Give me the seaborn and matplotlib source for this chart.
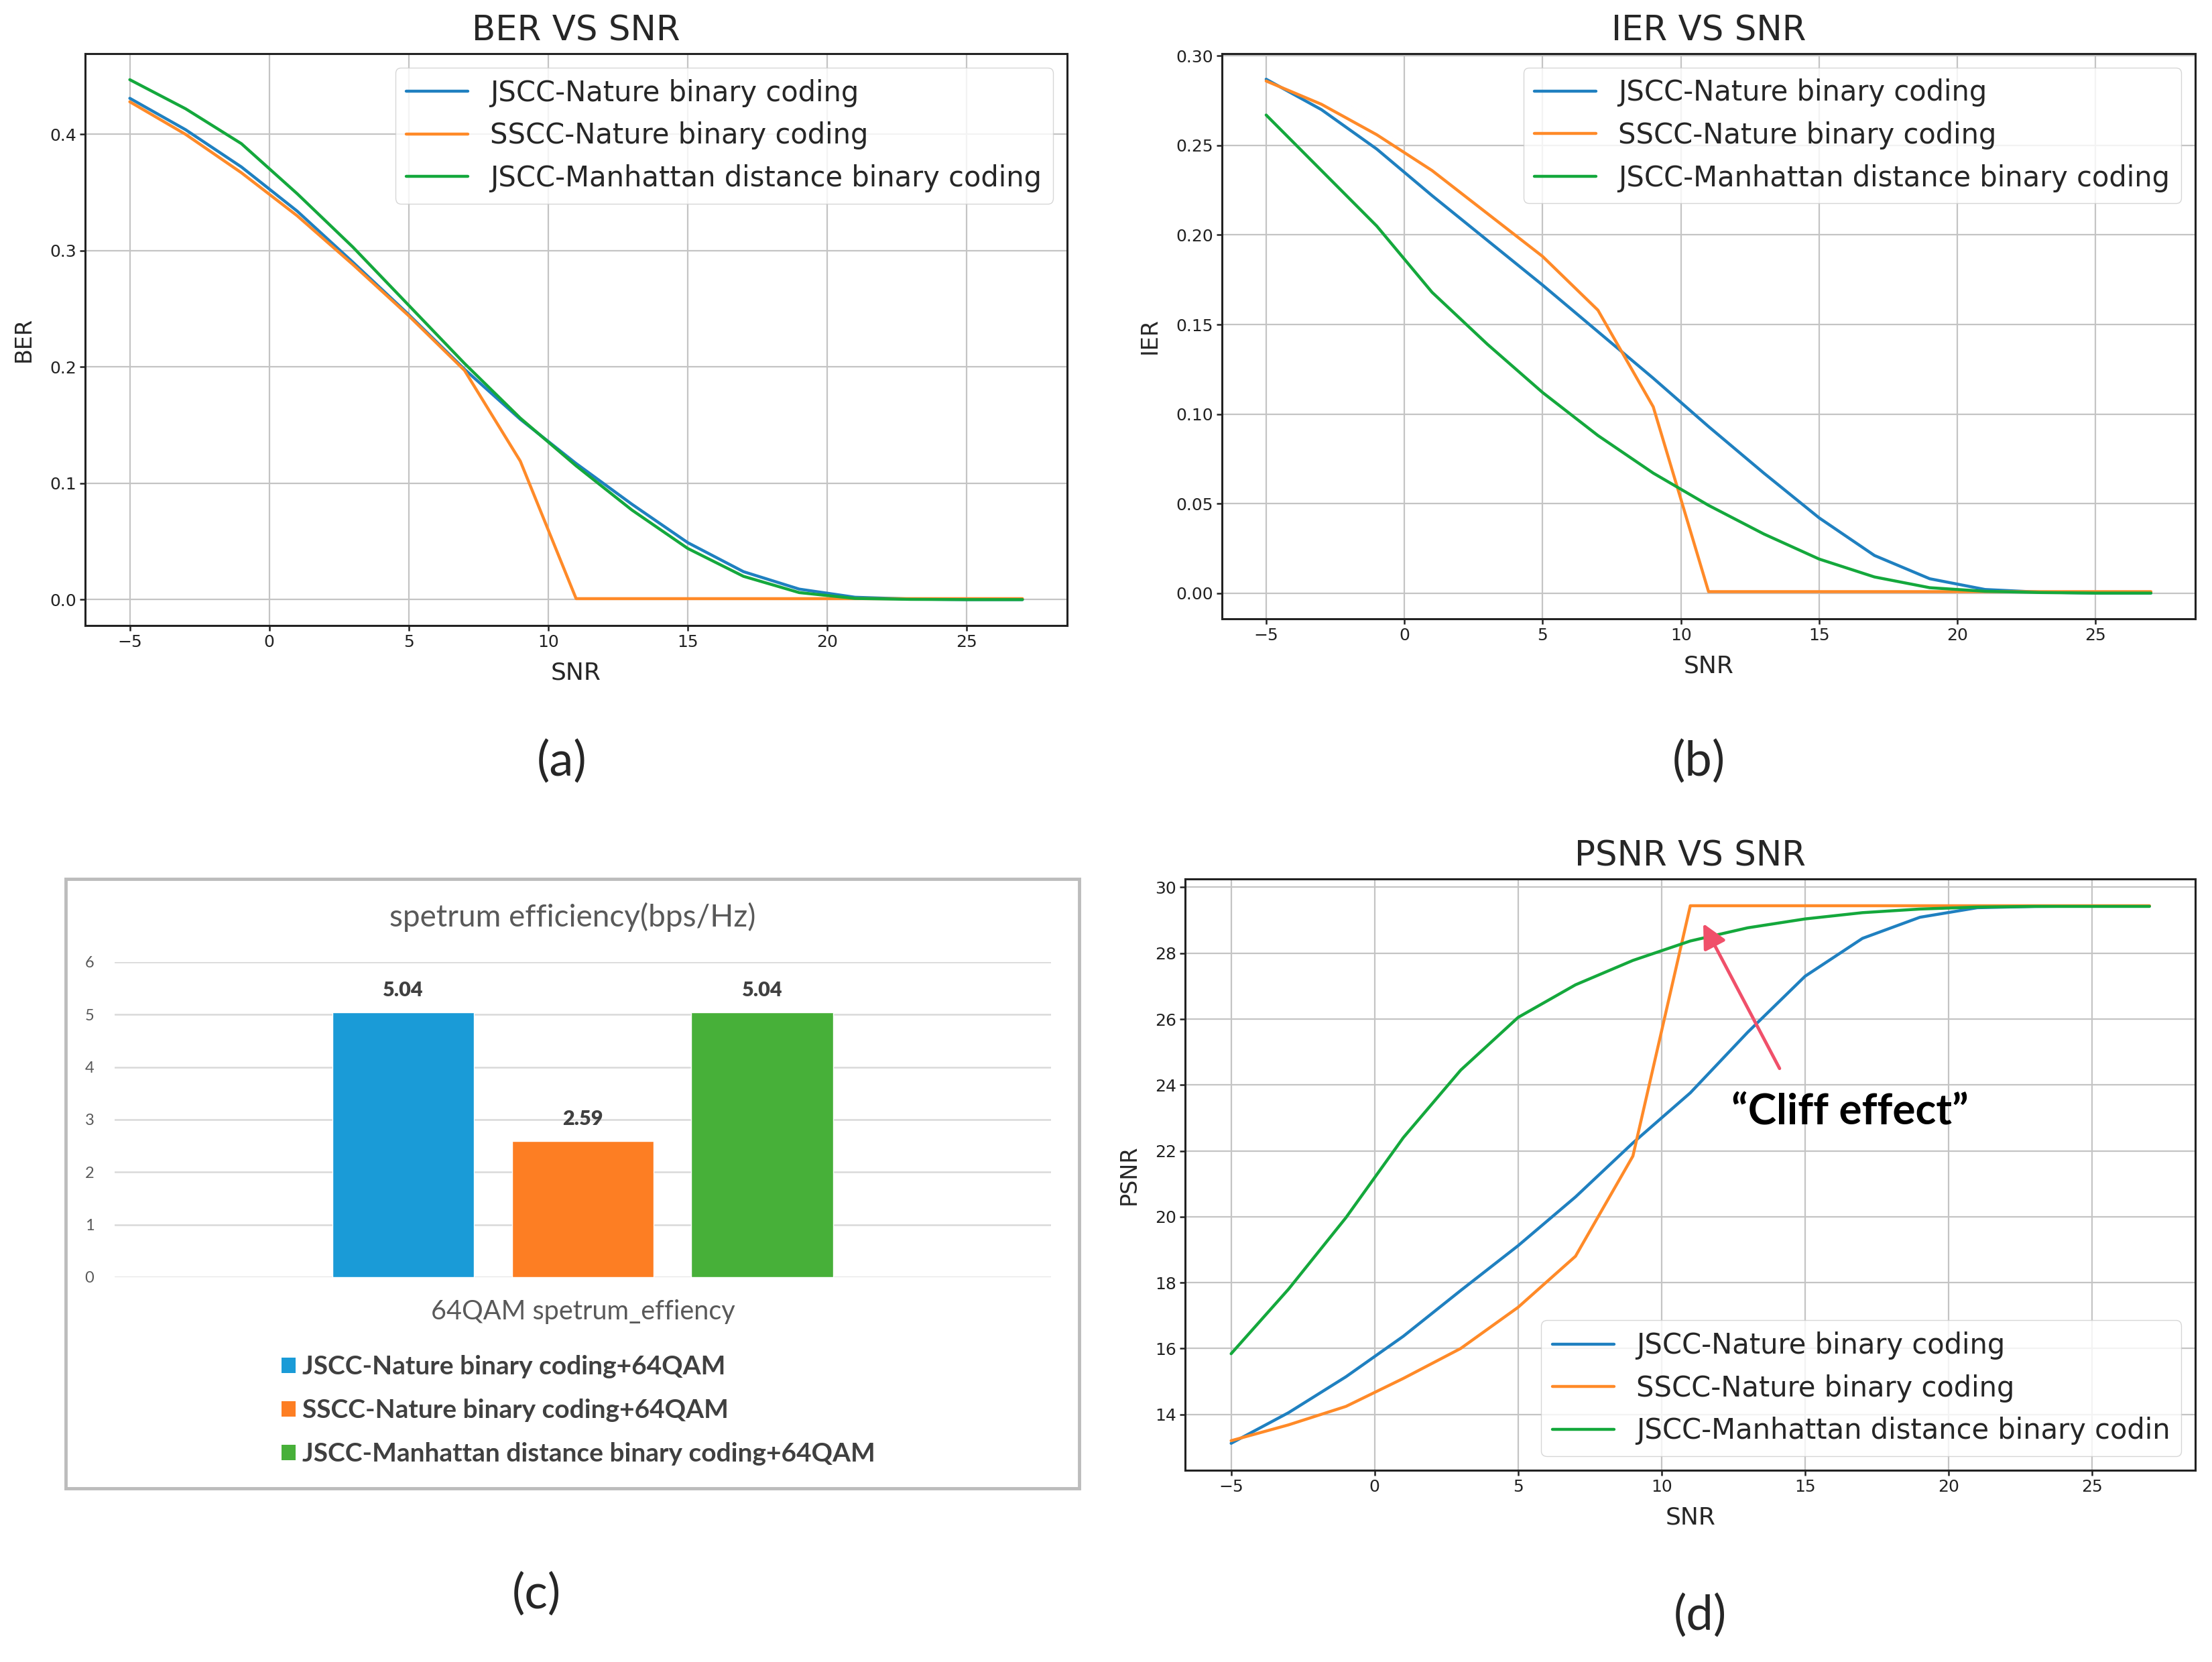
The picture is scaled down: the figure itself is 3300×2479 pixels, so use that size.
import numpy as np
import pandas as pd
import matplotlib
matplotlib.use("Agg")
import matplotlib.pyplot as plt
import seaborn as sns
from matplotlib.patches import Patch, Rectangle

# ---- data ----
snr = [-5, -3, -1, 1, 3, 5, 7, 9, 11, 13, 15, 17, 19, 21, 23, 25, 27]
methods = ["JSCC-Nature binary coding", "SSCC-Nature binary coding",
           "JSCC-Manhattan distance binary coding"]
psnr_methods = ["JSCC-Nature binary coding", "SSCC-Nature binary coding",
                "JSCC-Manhattan distance binary codin"]

ber_jscc_nature = [0.431, 0.404, 0.372, 0.334, 0.290, 0.245, 0.198, 0.155, 0.117,
                   0.082, 0.049, 0.024, 0.009, 0.002, 0.0005, 0.0, 0.0]
ber_sscc_nature = [0.428, 0.400, 0.367, 0.330, 0.288, 0.244, 0.197, 0.119, 0.0008,
                   0.0008, 0.0008, 0.0008, 0.0008, 0.0008, 0.0008, 0.0008, 0.0008]
ber_jscc_manhattan = [0.447, 0.422, 0.392, 0.349, 0.303, 0.253, 0.203, 0.156, 0.115,
                      0.077, 0.044, 0.020, 0.006, 0.001, 0.0002, 0.0, 0.0]

ier_jscc_nature = [0.287, 0.270, 0.248, 0.222, 0.197, 0.172, 0.146, 0.120, 0.093,
                   0.067, 0.042, 0.021, 0.008, 0.002, 0.0005, 0.0, 0.0]
ier_sscc_nature = [0.286, 0.273, 0.256, 0.236, 0.212, 0.188, 0.158, 0.104, 0.0008,
                   0.0008, 0.0008, 0.0008, 0.0008, 0.0008, 0.0008, 0.0008, 0.0008]
ier_jscc_manhattan = [0.267, 0.236, 0.205, 0.168, 0.139, 0.112, 0.088, 0.067, 0.049,
                      0.033, 0.019, 0.009, 0.003, 0.001, 0.0003, 0.0, 0.0]

psnr_jscc_nature = [13.12, 14.05, 15.14, 16.37, 17.76, 19.12, 20.60, 22.24, 23.76,
                    25.60, 27.30, 28.45, 29.09, 29.38, 29.42, 29.43, 29.43]
psnr_sscc_nature = [13.20, 13.68, 14.24, 15.09, 16.00, 17.25, 18.80, 21.84, 29.44,
                    29.44, 29.44, 29.44, 29.44, 29.44, 29.44, 29.44, 29.44]
psnr_jscc_manhattan = [15.84, 17.80, 19.97, 22.40, 24.45, 26.05, 27.04, 27.78, 28.37,
                       28.77, 29.04, 29.23, 29.34, 29.40, 29.42, 29.42, 29.42]

bar_category = "64QAM spetrum_effiency"
bar_labels = ["JSCC-Nature binary coding+64QAM", "SSCC-Nature binary coding+64QAM",
              "JSCC-Manhattan distance binary coding+64QAM"]
bar_values = [5.04, 2.59, 5.04]

line_colors = ["#1f80c0", "#ff8a28", "#14a83c"]
bar_colors = ["#1a9bd7", "#fd7e23", "#47b039"]


def long_df(values, labels, name):
    frames = []
    for v, lab in zip(values, labels):
        frames.append(pd.DataFrame({"SNR": snr, name: v, "method": lab}))
    return pd.concat(frames, ignore_index=True)


ber_df = long_df([ber_jscc_nature, ber_sscc_nature, ber_jscc_manhattan], methods, "BER")
ier_df = long_df([ier_jscc_nature, ier_sscc_nature, ier_jscc_manhattan], methods, "IER")
psnr_df = long_df([psnr_jscc_nature, psnr_sscc_nature, psnr_jscc_manhattan], psnr_methods, "PSNR")

sns.set_theme(style="ticks")
plt.rcParams["font.family"] = ["DejaVu Sans"]

fig = plt.figure(figsize=(33, 24.79), dpi=100)


def line_panel(rect, df, ycol, title, legend_loc):
    ax = fig.add_axes(rect)
    labels = list(dict.fromkeys(df["method"]))
    sns.lineplot(data=df, x="SNR", y=ycol, hue="method", hue_order=labels,
                 palette=line_colors, linewidth=3.2, ax=ax)
    ax.grid(True, color="#c4c4c4", linewidth=1.6)
    ax.set_axisbelow(True)
    for s in ax.spines.values():
        s.set_linewidth(2.2)
        s.set_color("#222222")
    ax.tick_params(labelsize=18, length=6, width=1.8, colors="#222222")
    ax.set_xticks([-5, 0, 5, 10, 15, 20, 25])
    ax.set_title(title, fontsize=37, pad=14)
    ax.set_xlabel("SNR", fontsize=26, labelpad=12)
    ax.set_ylabel(ycol, fontsize=24, labelpad=16)
    h, l = ax.get_legend_handles_labels()
    leg = ax.legend(h, l, loc=legend_loc, fontsize=30, handlelength=2.2,
                    labelspacing=0.52, borderpad=0.4, framealpha=0.8)
    for line in leg.get_lines():
        line.set_linewidth(3.2)
    return ax


ax_a = line_panel([0.0385, 0.6236, 0.4439, 0.3441], ber_df, "BER", "BER VS SNR", "upper right")
ax_a.set_yticks([0.0, 0.1, 0.2, 0.3, 0.4])

ax_b = line_panel([0.5524, 0.6277, 0.4400, 0.3401], ier_df, "IER", "IER VS SNR", "upper right")
ax_b.set_yticks([0.0, 0.05, 0.10, 0.15, 0.20, 0.25, 0.30])
ax_b.set_yticklabels(["0.00", "0.05", "0.10", "0.15", "0.20", "0.25", "0.30"])

ax_d = line_panel([0.5358, 0.1154, 0.4567, 0.3558], psnr_df, "PSNR", "PSNR VS SNR", "lower right")
ax_d.set_yticks([14, 16, 18, 20, 22, 24, 26, 28, 30])
ax_d.annotate("", xy=(11.45, 28.9), xytext=(14.11, 24.5), textcoords="data",
              arrowprops=dict(arrowstyle="-|>", color="#f0506a", lw=3.5,
                              mutation_scale=55, shrinkA=0, shrinkB=0))
ax_d.text(16.57, 23.2, "\u201cCliff effect\u201d", fontsize=46, fontweight="bold",
          family="Lato", ha="center", va="center", color="black")

# ---- (c) bar chart in an Excel-like frame ----
ax_c = fig.add_axes([0.0518, 0.2316, 0.4233, 0.1896])
bar_df = pd.DataFrame({"category": [bar_category] * 3, "scheme": bar_labels,
                       "value": bar_values})
sns.barplot(data=bar_df, x="category", y="value", hue="scheme", hue_order=bar_labels,
            palette=bar_colors, saturation=1, width=0.575, gap=0.21, legend=False, ax=ax_c)
ax_c.set_ylim(0, 6)
ax_c.set_yticks(range(0, 7))
ax_c.set_xlim(-0.5, 0.5)
sns.despine(ax=ax_c, left=True, bottom=True)
ax_c.grid(axis="y", color="#d9d9d9", linewidth=1.8)
ax_c.set_axisbelow(True)
ax_c.set_xlabel("")
ax_c.set_ylabel("")
ax_c.tick_params(axis="y", length=0, pad=22, labelsize=17, labelcolor="#595959")
ax_c.tick_params(axis="x", length=0, pad=24, labelsize=28.5, labelcolor="#595959")
for t in ax_c.get_xticklabels() + ax_c.get_yticklabels():
    t.set_family("Lato")
for cont in ax_c.containers:
    texts = ax_c.bar_label(cont, fmt="%.2f", padding=14, color="#404040")
    for t in texts:
        t.set_family("Lato")
        t.set_fontweight("heavy")
        t.set_fontsize(22)

fig.text(0.2588, 0.4482, "spetrum efficiency(bps/Hz)", fontsize=33, color="#595959",
         family="Lato", ha="center", va="center")
handles = [Patch(facecolor=c, edgecolor="none") for c in bar_colors]
fig.legend(handles, bar_labels, loc="upper left", bbox_to_anchor=(0.1213, 0.1924),
           frameon=False, borderpad=0, handlelength=0.54, handleheight=0.54,
           handletextpad=0.27, labelspacing=0.77,
           prop={"family": "Lato", "weight": "bold", "size": 28},
           labelcolor="#404040")
fig.patches.append(Rectangle((0.0297, 0.1045), 0.4582, 0.3667, transform=fig.transFigure,
                             fill=False, edgecolor="#bcbcbc", linewidth=3.5))

# ---- panel letters ----
for x, y, s in [(0.2539, 0.5418, "(a)"), (0.7679, 0.5418, "(b)"),
                (0.2424, 0.0408, "(c)"), (0.7685, 0.0279, "(d)")]:
    fig.text(x, y, s, fontsize=52, family="Lato", ha="center", va="center")

fig.savefig("out.png", dpi=100)
